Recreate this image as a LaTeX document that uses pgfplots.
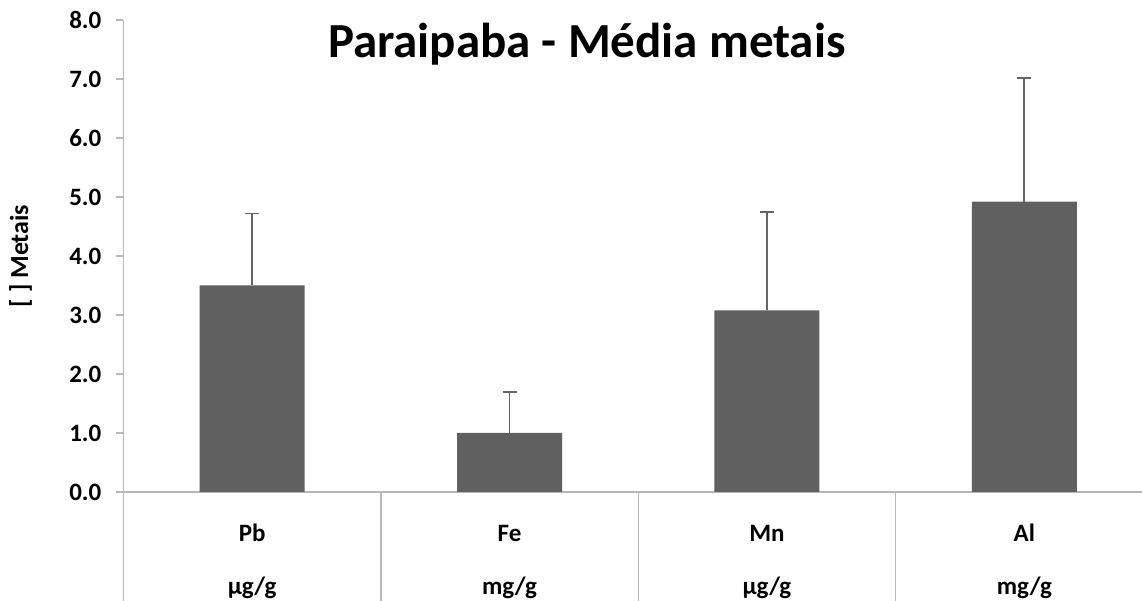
\documentclass[border=0pt]{standalone}
\usepackage{fontspec}
\setmainfont{Carlito}
\usepackage{pgfplots}
\pgfplotsset{compat=1.18}
\definecolor{bargray}{RGB}{96,96,96}
\definecolor{axgray}{RGB}{184,184,184}
\definecolor{errgray}{RGB}{100,100,100}
\begin{document}
\begin{tikzpicture}
\begin{axis}[
  at={(123.5pt,109pt)}, anchor=south west,
  scale only axis, width=1029.6pt, height=472pt,
  xmin=-0.5, xmax=3.5, ymin=0, ymax=8,
  axis x line*=bottom, axis y line*=left,
  axis line style={draw=axgray, line width=1.5pt},
  tick align=outside,
  major tick length=7pt,
  minor tick length=109pt,
  ytick={0,1,2,3,4,5,6,7,8},
  ytick style={draw=axgray, line width=1.5pt},
  yticklabel style={/pgf/number format/fixed, /pgf/number format/fixed zerofill, /pgf/number format/precision=1, /pgf/number format/assume math mode=true, font=\fontsize{25}{30}\selectfont\bfseries, anchor=east, inner sep=0pt, xshift=-15pt},
  xtick={0,1,2,3},
  minor xtick={-0.5,0.5,1.5,2.5},
  xticklabels={{\strut Pb\\\strut µg/g},{\strut Fe\\\strut mg/g},{\strut Mn\\\strut µg/g},{\strut Al\\\strut mg/g}},
  major x tick style={draw=none},
  minor x tick style={draw=axgray, line width=1.5pt},
  xticklabel style={align=center, font=\fontsize{25}{53}\selectfont\bfseries, anchor=north, inner sep=0pt, yshift=-5pt},
  title={Paraipaba - Média metais},
  title style={font=\fontsize{49}{55}\selectfont\bfseries, at={(0.45,1)}, anchor=base, yshift=-44pt},
  ylabel={{[ ] Metais}},
  ylabel style={at={(axis description cs:-0.1,0.5)}, anchor=center, font=\fontsize{26}{30}\selectfont\bfseries},
  clip=false,
]
\addplot[ybar, bar width=105pt, fill=bargray, draw=none,
  error bars/.cd, y dir=plus, y explicit,
  error bar style={line width=1.8pt, color=errgray},
  error mark options={rotate=90, line width=1.8pt, mark size=7pt, color=errgray}]
  coordinates {(0,3.5) +- (0,1.22) (1,1.0) +- (0,0.70) (2,3.08) +- (0,1.67) (3,4.92) +- (0,2.10)};
\end{axis}
\pgfresetboundingbox
\path[use as bounding box] (0,0) rectangle (1142pt,601pt);
\end{tikzpicture}
\end{document}
